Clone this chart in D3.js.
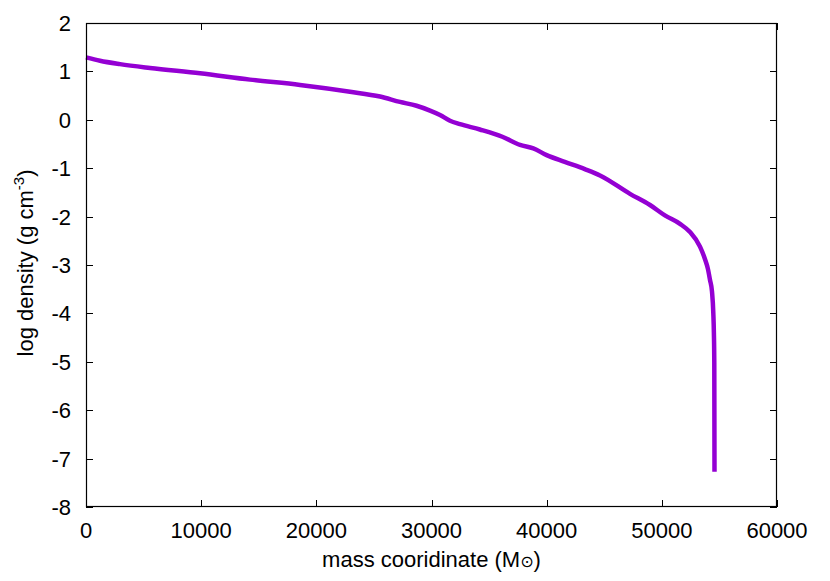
<!DOCTYPE html>
<html>
<head>
<meta charset="utf-8">
<script src="https://cdn.jsdelivr.net/npm/d3@7"></script>
<style>
html,body{margin:0;padding:0;background:#fff;}
svg{display:block;font-family:"Liberation Sans",Arial,Helvetica,sans-serif;}
</style>
</head>
<body>
<svg id="chart" width="830" height="581"></svg>
<script>
// mass coordinate (solar masses)
const mass = [0, 1216, 2952, 5557, 9899, 14240, 18582, 22923, 25528, 27265, 28700, 29870, 30738, 31606, 32475, 34200, 36150, 37685, 38840, 40000, 41570, 43310, 44630, 47235, 48972, 50300, 51577, 52446, 53314, 53748, 54000, 54183, 54356, 54469, 54520, 54555, 54573];
// log density (g cm^-3)
const logDensity = [1.29, 1.22, 1.15, 1.07, 0.96, 0.83, 0.72, 0.58, 0.48, 0.37, 0.29, 0.19, 0.10, -0.02, -0.09, -0.20, -0.35, -0.52, -0.59, -0.73, -0.87, -1.02, -1.15, -1.53, -1.76, -1.98, -2.15, -2.32, -2.62, -2.88, -3.08, -3.31, -3.55, -3.99, -4.4, -5.02, -7.27];
const xTicks = [0, 10000, 20000, 30000, 40000, 50000, 60000];
const yTicks = [-8, -7, -6, -5, -4, -3, -2, -1, 0, 1, 2];

const svg = d3.select("#chart");
const L = 86, R = 777, T = 23, B = 507;
const x = d3.scaleLinear().domain([0, 60000]).range([L, R]);
const y = d3.scaleLinear().domain([-8, 2]).range([B, T]);
const fs = 22;

// ticks (inward, all four sides)
const tl = 7;
const g = svg.append("g").attr("stroke", "#000").attr("stroke-width", 1);
xTicks.forEach(t => {
  const px = Math.round(x(t)) + 0.5;
  g.append("line").attr("x1", px).attr("x2", px).attr("y1", B).attr("y2", B - tl);
  g.append("line").attr("x1", px).attr("x2", px).attr("y1", T).attr("y2", T + tl);
});
yTicks.forEach(t => {
  const py = Math.round(y(t)) + 0.5;
  g.append("line").attr("x1", L).attr("x2", L + tl).attr("y1", py).attr("y2", py);
  g.append("line").attr("x1", R).attr("x2", R - tl).attr("y1", py).attr("y2", py);
});

// tick labels
svg.append("g").selectAll("text").data(xTicks).join("text")
  .attr("x", d => x(d)).attr("y", 538)
  .attr("text-anchor", "middle").attr("font-size", fs).attr("fill", "#000")
  .text(d => d);
svg.append("g").selectAll("text").data(yTicks).join("text")
  .attr("x", 71).attr("y", d => y(d)).attr("dy", "0.36em")
  .attr("text-anchor", "end").attr("font-size", fs).attr("fill", "#000")
  .text(d => d);

// data line
const line = d3.line().x((d, i) => x(mass[i])).y(d => y(d)).curve(d3.curveMonotoneX);
svg.append("path").datum(logDensity)
  .attr("d", line)
  .attr("fill", "none").attr("stroke", "#9400d3").attr("stroke-width", 4.5)
  .attr("stroke-linejoin", "round");

// frame
svg.append("rect").attr("x", L + 0.5).attr("y", T + 0.5)
  .attr("width", R - L - 1).attr("height", B - T - 1)
  .attr("fill", "none").attr("stroke", "#000").attr("stroke-width", 1.2);

// axis labels
const xl = svg.append("text").attr("x", (L + R) / 2).attr("y", 567)
  .attr("text-anchor", "middle").attr("font-size", fs).attr("fill", "#000");
xl.append("tspan").text("mass cooridinate (M");
xl.append("tspan").attr("font-size", 16).attr("font-family", "DejaVu Sans").text("⊙");
xl.append("tspan").text(")");

const yl = svg.append("text")
  .attr("transform", `translate(33,263) rotate(-90)`)
  .attr("text-anchor", "middle").attr("font-size", fs).attr("fill", "#000");
yl.append("tspan").text("log density (g cm");
yl.append("tspan").attr("font-size", 15).attr("dy", -9).text("-3");
yl.append("tspan").attr("dy", 9).text(")");
</script>
</body>
</html>
